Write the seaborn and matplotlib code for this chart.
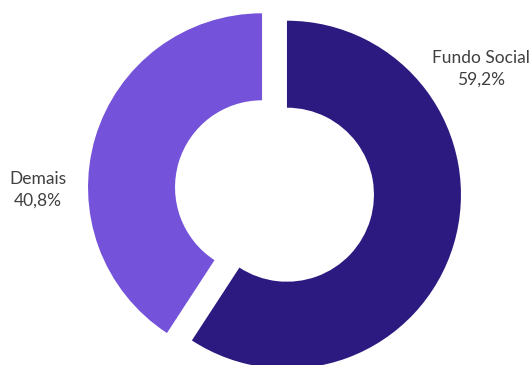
import matplotlib
matplotlib.use("Agg")
import matplotlib.pyplot as plt
import seaborn as sns

categories = ["Fundo Social", "Demais"]
values = [59.2, 40.8]
value_labels = ["59,2%", "40,8%"]
colors = ["#2D1A80", "#7452D9"]

sns.set_theme(style="white")
plt.rcParams['font.family'] = ['Lato', 'DejaVu Sans']

W, H = 532, 365
fig = plt.figure(figsize=(W / 100, H / 100), dpi=100)
ax = fig.add_axes([0, 0, 1, 1])

R = 174
cx, cy = 274.5, H - 191
ax.pie(values, colors=colors, startangle=90, counterclock=False,
       radius=R, center=(cx, cy), explode=[13, 13],
       wedgeprops=dict(width=87, linewidth=0))

ax.set_xlim(0, W)
ax.set_ylim(0, H)
ax.set_aspect('auto')
ax.axis('off')

label_pos = [(481, H - 69), (38, H - 190)]
for cat, lab, (x, y) in zip(categories, value_labels, label_pos):
    ax.text(x, y, f"{cat}\n{lab}", ha='center', va='center',
            fontsize=12.5, color='#404040', linespacing=1.4)

fig.savefig("out.png", dpi=100)
